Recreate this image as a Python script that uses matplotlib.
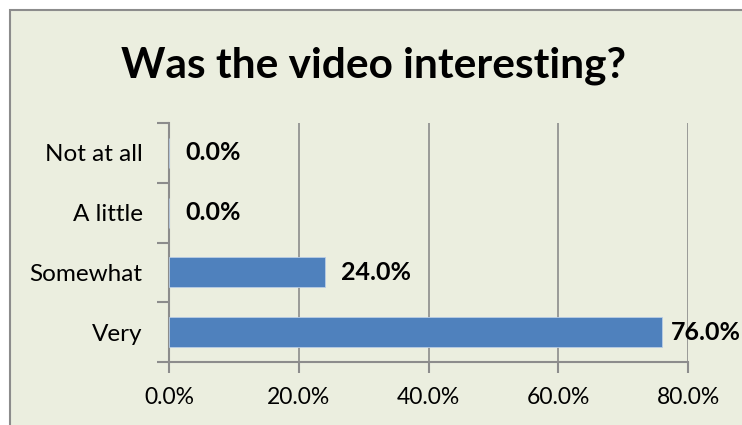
import matplotlib.pyplot as plt
from matplotlib.patches import Rectangle
from matplotlib.ticker import FuncFormatter

# Survey answers, bottom to top
categories = ['Very', 'Somewhat', 'A little', 'Not at all']
shares = [76.0, 24.0, 0.0, 0.0]
x_ticks = [0, 20, 40, 60, 80]

bg = '#EBEEDF'
bar_color = '#4F81BD'
grid_color = '#8C8C8C'

plt.rcParams['font.family'] = ['Lato', 'DejaVu Sans']

fig = plt.figure(figsize=(7.42, 4.25), dpi=100)
fig.patch.set_facecolor('white')

# chart frame
frame = Rectangle((10 / 742, -0.05), 1.0, 1 - 10 / 425 + 0.05,
                  transform=fig.transFigure, facecolor=bg,
                  edgecolor='#8C8C8C', linewidth=1.5, zorder=-5)
fig.patches.append(frame)

ax = fig.add_axes([169 / 742, 1 - 362 / 425, 519 / 742, 239 / 425])
ax.set_facecolor('none')
ax.set_zorder(2)

y = list(range(len(categories)))
ax.barh(y, shares, height=0.5, color=bar_color, edgecolor='#B9CDE5',
        linewidth=0.6, zorder=3)

labels = []
for yi, v in zip(y, shares):
    t = ax.text(v + 2.5, yi, f'{v:.1f}%', va='center', ha='left',
                fontsize=18, fontweight='bold', color='black', clip_on=False)
    labels.append(t)

ax.set_xlim(0, 80)
ax.set_ylim(-0.5, len(categories) - 0.5)
ax.set_xticks(x_ticks)
ax.xaxis.set_major_formatter(FuncFormatter(lambda v, p: f'{v:.1f}%'))

# category labels sit between the tick marks
ax.set_yticks([i - 0.5 for i in range(len(categories) + 1)])
ax.set_yticklabels([])
ax.set_yticks(y, minor=True)
ax.set_yticklabels(categories, minor=True)
ax.tick_params(axis='y', which='minor', length=0, pad=19, labelsize=17.5)
ax.tick_params(axis='y', which='major', length=9, width=1.5, color=grid_color)
ax.tick_params(axis='x', length=8, width=1.5, color=grid_color, labelsize=16.5,
               pad=10)

ax.grid(axis='x', color=grid_color, linewidth=1.2, zorder=0)
for side in ['top', 'right']:
    ax.spines[side].set_visible(False)
for side in ['left', 'bottom']:
    ax.spines[side].set_color(grid_color)
    ax.spines[side].set_linewidth(1.5)

fig.text(373 / 742, 1 - 66 / 425, 'Was the video interesting?',
         ha='center', va='center', fontsize=30.5, fontweight='bold')

# pull labels back inside the figure if they run past the right edge
fig.canvas.draw()
renderer = fig.canvas.get_renderer()
fig_w = fig.bbox.width
for t in labels:
    bb = t.get_window_extent(renderer)
    if bb.x1 > fig_w - 1:
        x_disp, y_disp = ax.transData.transform(t.get_position())
        new_x = ax.transData.inverted().transform((x_disp - (bb.x1 - fig_w + 1), y_disp))[0]
        t.set_x(new_x)

fig.savefig('out.png', dpi=100, facecolor=fig.get_facecolor())
